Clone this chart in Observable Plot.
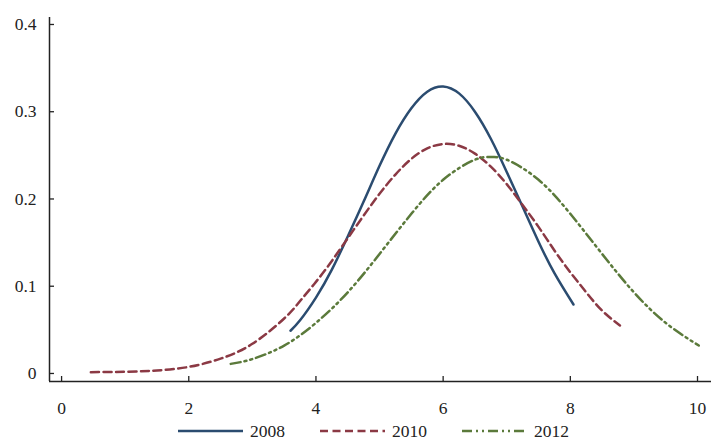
<!DOCTYPE html>
<html>
<head>
<meta charset="utf-8">
<script src="https://cdn.jsdelivr.net/npm/d3@7"></script>
<script src="https://cdn.jsdelivr.net/npm/@observablehq/plot@0.6"></script>
<style>
  body { margin: 0; background: #fff; font-family: "Liberation Serif", "Times New Roman", serif; }
  #legend { display: flex; align-items: center; height: 20px; margin-left: 178px; font-size: 17.5px; color: #222; }
  #legend .item { display: flex; align-items: center; margin-right: 35px; }
  #legend .item span { margin-left: 7px; }
</style>
</head>
<body>
<div id="chart"></div>
<div id="legend"></div>
<script>
// ---- Data ----
const seriesNames = ["2008", "2010", "2012"];

const x2008 = [3.6, 3.75, 4.0, 4.25, 4.5, 4.75, 5.0, 5.25, 5.5, 5.75, 6.0, 6.25, 6.5, 6.75, 7.0, 7.25, 7.5, 7.75, 8.05];
const y2008 = [0.049, 0.061, 0.087, 0.119, 0.157, 0.197, 0.238, 0.275, 0.304, 0.323, 0.329, 0.321, 0.300, 0.269, 0.231, 0.191, 0.151, 0.115, 0.079];

const x2010 = [0.46, 1.0, 1.5, 2.0, 2.5, 3.0, 3.5, 3.75, 4.0, 4.25, 4.5, 4.75, 5.0, 5.25, 5.5, 5.75, 6.0, 6.25, 6.5, 6.75, 7.0, 7.25, 7.5, 7.75, 8.0, 8.25, 8.5, 8.78];
const y2010 = [0.0015, 0.002, 0.0035, 0.0075, 0.017, 0.034, 0.063, 0.083, 0.105, 0.129, 0.155, 0.181, 0.206, 0.228, 0.246, 0.258, 0.263, 0.261, 0.252, 0.237, 0.217, 0.193, 0.168, 0.141, 0.116, 0.093, 0.072, 0.055];

const x2012 = [2.66, 3.0, 3.5, 4.0, 4.5, 5.0, 5.5, 6.0, 6.5, 6.75, 7.0, 7.5, 8.0, 8.5, 9.0, 9.5, 10.02];
const y2012 = [0.011, 0.0165, 0.032, 0.058, 0.093, 0.137, 0.183, 0.222, 0.245, 0.248, 0.245, 0.222, 0.183, 0.137, 0.093, 0.058, 0.032];

const xTicks = [0, 2, 4, 6, 8, 10];
const xTickLabels = ["0", "2", "4", "6", "8", "10"];
const yTicks = [0, 0.1, 0.2, 0.3, 0.4];
const yTickLabels = ["0", "0.1", "0.2", "0.3", "0.4"];

// ---- Styles ----
const styles = {
  "2008": {stroke: "#2b4c70", dash: null},
  "2010": {stroke: "#8b3944", dash: "8,4.5"},
  "2012": {stroke: "#5b7a3b", dash: "10,4,2,4,2,4"}
};

const xs = {"2008": x2008, "2010": x2010, "2012": x2012};
const ys = {"2008": y2008, "2010": y2010, "2012": y2012};
const data = seriesNames.flatMap(s => xs[s].map((x, i) => ({series: s, x, y: ys[s][i]})));

const xDomain = [-0.19, 10.22];
const yDomain = [-0.0092, 0.408];
const axisColor = "#222";
const fontStack = "'Liberation Serif', 'Times New Roman', serif";

const chart = Plot.plot({
  width: 711,
  height: 421,
  marginLeft: 49,
  marginRight: 0,
  marginTop: 17,
  marginBottom: 40,
  style: {fontFamily: fontStack, fontSize: "17.5px", color: axisColor, background: "#fff"},
  x: {domain: xDomain},
  y: {domain: yDomain},
  marks: [
    Plot.axisX({ticks: xTicks, tickSize: -5, tickFormat: () => "", label: null, stroke: axisColor, strokeWidth: 1.3}),
    Plot.axisX({ticks: xTicks, tickSize: 0, tickPadding: 20, tickFormat: d => xTickLabels[xTicks.indexOf(d)], label: null, fill: axisColor}),
    Plot.axisY({ticks: yTicks, tickSize: -5, tickFormat: () => "", label: null, stroke: axisColor, strokeWidth: 1.3}),
    Plot.axisY({ticks: yTicks, tickSize: 0, tickPadding: 13, tickFormat: d => yTickLabels[yTicks.indexOf(d)], label: null, fill: axisColor}),
    Plot.ruleX([xDomain[0]], {stroke: axisColor, strokeWidth: 1.5}),
    Plot.ruleY([yDomain[0]], {stroke: axisColor, strokeWidth: 1.5}),
    ...seriesNames.map(s => Plot.line(data.filter(d => d.series === s), {
      x: "x", y: "y", curve: "natural",
      stroke: styles[s].stroke, strokeWidth: 2.5,
      strokeDasharray: styles[s].dash
    }))
  ]
});
document.getElementById("chart").appendChild(chart);

// ---- Legend ----
const legend = d3.select("#legend");
seriesNames.forEach(s => {
  const item = legend.append("div").attr("class", "item");
  const svg = item.append("svg").attr("width", 65).attr("height", 12);
  svg.append("line").attr("x1", 0).attr("x2", 65).attr("y1", 6).attr("y2", 6)
    .attr("stroke", styles[s].stroke).attr("stroke-width", 2.5)
    .attr("stroke-dasharray", styles[s].dash);
  item.append("span").text(s);
});
</script>
</body>
</html>
